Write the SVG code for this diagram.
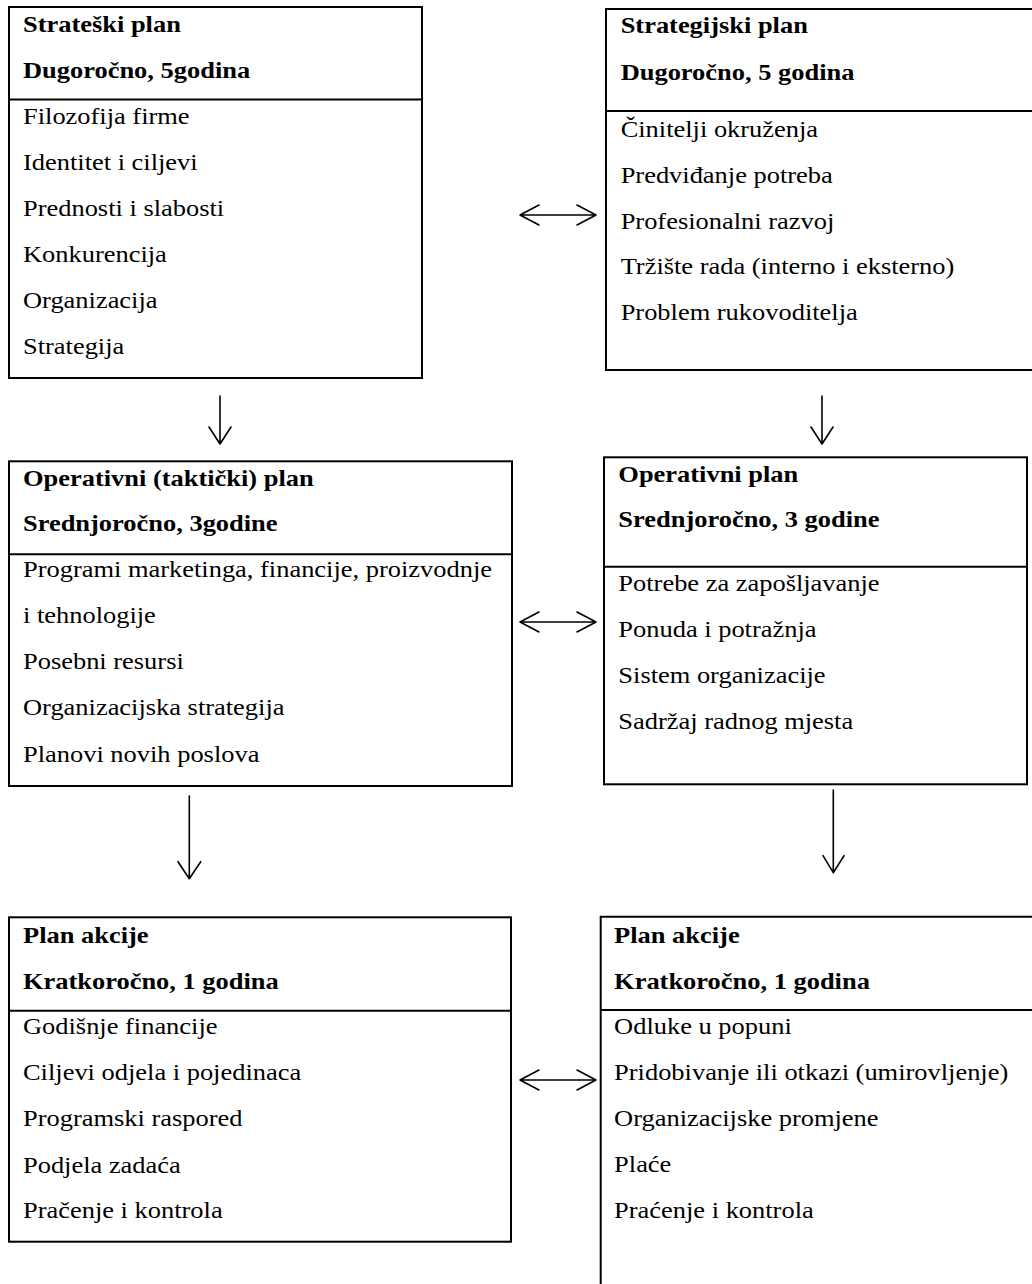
<svg xmlns="http://www.w3.org/2000/svg" width="1032" height="1284" viewBox="0 0 1032 1284">
<style>
.box{fill:none;stroke:#000;stroke-width:2}
.div{stroke:#000;stroke-width:2}
text{font-family:"Liberation Serif","Times New Roman",serif;font-size:23px;fill:#000}
.h{font-weight:bold}
.c{fill:none;stroke:#000;stroke-width:1.6;stroke-linecap:round;stroke-linejoin:round}
</style>
<rect width="1032" height="1284" fill="#fff"/>
<g id="strateski-plan">
<rect class="box" x="9" y="7" width="413" height="371"/>
<line class="div" x1="9" y1="99.5" x2="422" y2="99.5"/>
<g transform="scale(1.15 1)">
<text class="h" x="20" y="32">Strateški plan</text>
<text class="h" x="20" y="78">Dugoročno, 5godina</text>
<text x="20" y="124">Filozofija firme</text>
<text x="20" y="170.5">Identitet i ciljevi</text>
<text x="20" y="216.5">Prednosti i slabosti</text>
<text x="20" y="262.5">Konkurencija</text>
<text x="20" y="308.5">Organizacija</text>
<text x="20" y="354">Strategija</text>
</g>
</g>
<g id="strategijski-plan">
<path class="box" d="M1040 9H606V370H1040"/>
<line class="div" x1="606" y1="111" x2="1040" y2="111"/>
<g transform="scale(1.15 1)">
<text class="h" x="539.7" y="33.3">Strategijski plan</text>
<text class="h" x="539.7" y="80">Dugoročno, 5 godina</text>
<text x="539.7" y="136.7">Činitelji okruženja</text>
<text x="539.7" y="182.7">Predviđanje potreba</text>
<text x="539.7" y="228.7">Profesionalni razvoj</text>
<text x="539.7" y="274">Tržište rada (interno i eksterno)</text>
<text x="539.7" y="320">Problem rukovoditelja</text>
</g>
</g>
<g id="operativni-takticki-plan">
<rect class="box" x="9" y="461.3" width="503" height="324.7"/>
<line class="div" x1="9" y1="554.3" x2="512" y2="554.3"/>
<g transform="scale(1.15 1)">
<text class="h" x="20" y="485.7">Operativni (taktički) plan</text>
<text class="h" x="20" y="531">Srednjoročno, 3godine</text>
<text x="20" y="577.3">Programi marketinga, financije, proizvodnje</text>
<text x="20" y="623.3">i tehnologije</text>
<text x="20" y="669.3">Posebni resursi</text>
<text x="20" y="715.3">Organizacijska strategija</text>
<text x="20" y="761.7">Planovi novih poslova</text>
</g>
</g>
<g id="operativni-plan">
<rect class="box" x="604" y="457.3" width="423" height="327"/>
<line class="div" x1="604" y1="566.7" x2="1027" y2="566.7"/>
<g transform="scale(1.15 1)">
<text class="h" x="537.7" y="481.7">Operativni plan</text>
<text class="h" x="537.7" y="527.3">Srednjoročno, 3 godine</text>
<text x="537.7" y="590.7">Potrebe za zapošljavanje</text>
<text x="537.7" y="637.3">Ponuda i potražnja</text>
<text x="537.7" y="683.3">Sistem organizacije</text>
<text x="537.7" y="729.3">Sadržaj radnog mjesta</text>
</g>
</g>
<g id="plan-akcije-1">
<rect class="box" x="9" y="917.3" width="502" height="324.4"/>
<line class="div" x1="9" y1="1010.7" x2="511" y2="1010.7"/>
<g transform="scale(1.15 1)">
<text class="h" x="20" y="942.7">Plan akcije</text>
<text class="h" x="20" y="989.3">Kratkoročno, 1 godina</text>
<text x="20" y="1034">Godišnje financije</text>
<text x="20" y="1080">Ciljevi odjela i pojedinaca</text>
<text x="20" y="1126">Programski raspored</text>
<text x="20" y="1172.7">Podjela zadaća</text>
<text x="20" y="1218.3">Pračenje i kontrola</text>
</g>
</g>
<g id="plan-akcije-2">
<path class="box" d="M1040 916.7H600.7V1300"/>
<line class="div" x1="600.7" y1="1010" x2="1040" y2="1010"/>
<g transform="scale(1.15 1)">
<text class="h" x="534" y="942.7">Plan akcije</text>
<text class="h" x="534" y="989.3">Kratkoročno, 1 godina</text>
<text x="534" y="1034">Odluke u popuni</text>
<text x="534" y="1080">Pridobivanje ili otkazi (umirovljenje)</text>
<text x="534" y="1126">Organizacijske promjene</text>
<text x="534" y="1172">Plaće</text>
<text x="534" y="1218">Praćenje i kontrola</text>
</g>
</g>
<g id="connectors">
<path class="c" d="M520 215H596M539 205L520 215L539 225M577 205L596 215L577 225"/>
<path class="c" d="M520 622H596M539 612L520 622L539 632M577 612L596 622L577 632"/>
<path class="c" d="M520 1080H596M539 1070L520 1080L539 1090M577 1070L596 1080L577 1090"/>
<path class="c" d="M220 396V444M209 427L220 444L231 427"/>
<path class="c" d="M822 396V444M811 427L822 444L833 427"/>
<path class="c" d="M189.3 796V878.7M178 861.7L189.3 878.7L200.7 861.7"/>
<path class="c" d="M833.3 790V872.7M823 855.7L833.3 872.7L844 855.7"/>
</g>
</svg>
